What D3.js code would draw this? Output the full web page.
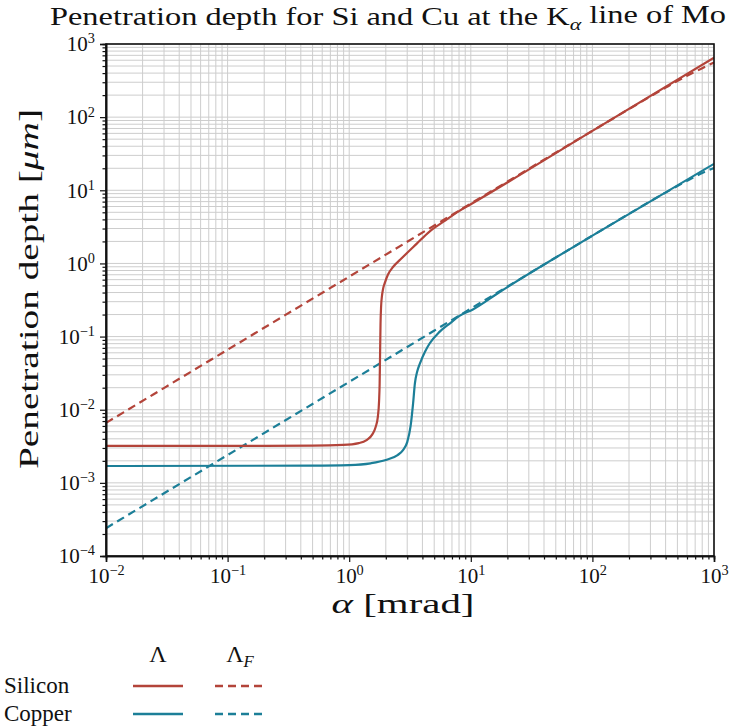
<!DOCTYPE html>
<html><head><meta charset="utf-8">
<script src="https://cdn.jsdelivr.net/npm/d3@7"></script>
<style>body{margin:0;background:#fff}svg{display:block}text{font-family:"Liberation Serif","DejaVu Serif",serif;fill:#111}</style>
</head><body><svg id="c" width="734" height="726"></svg>
<script>
// ---- data ----
const xTickExps = [-2, -1, 0, 1, 2, 3];
const yTickExps = [-4, -3, -2, -1, 0, 1, 2, 3];

const siAlpha  = [0.01, 0.1, 0.5, 0.89, 1.2, 1.39, 1.55, 1.65, 1.72, 1.76, 1.78, 1.795, 1.81, 1.83, 1.86, 1.9, 1.97, 2.08, 2.3, 2.62, 3.58, 4.6, 6, 8, 10, 100, 1000];
const siLambda = [3.2e-3, 3.2e-3, 3.22e-3, 3.3e-3, 3.5e-3, 3.85e-3, 4.6e-3, 5.8e-3, 8e-3, 0.013, 0.023, 0.06, 0.15, 0.26, 0.36, 0.45, 0.55, 0.7, 0.9, 1.12, 1.85, 2.75, 3.75, 5.2, 6.45, 65, 650];
const siFAlpha  = [0.01, 1, 100, 200, 400, 600, 800, 1000];
const siLambdaF = [0.0066, 0.66, 65, 129, 253, 367, 466, 560];

const cuAlpha  = [0.01, 0.5, 1, 1.5, 2, 2.5, 2.77, 3, 3.2, 3.35, 3.47, 3.62, 3.82, 4.2, 4.6, 5.5, 6.74, 8, 10.4, 17.4, 100, 1000];
const cuLambda = [1.7e-3, 1.72e-3, 1.75e-3, 1.85e-3, 2.05e-3, 2.4e-3, 2.8e-3, 3.6e-3, 6e-3, 0.012, 0.023, 0.033, 0.043, 0.062, 0.081, 0.115, 0.152, 0.19, 0.235, 0.41, 2.4, 23];
const cuFAlpha  = [0.01, 1, 100, 200, 400, 600, 800, 1000];
const cuLambdaF = [2.4e-4, 0.024, 2.4, 4.77, 9.3, 13.5, 17.2, 20.2];

const seriesNames = ["Silicon", "Copper"];
const seriesColors = ["#b3443a", "#1c7f98"];

// ---- layout ----
const svg = d3.select("#c");
const L = 106, R = 714, T = 44, B = 556;
const x = d3.scaleLog().domain([1e-2, 1e3]).range([L, R]);
const y = d3.scaleLog().domain([1e-4, 1e3]).range([B, T]);

const majX = xTickExps.map(e => Math.pow(10, e));
const majY = yTickExps.map(e => Math.pow(10, e));
const minX = [], minY = [];
for (let e = -2; e < 3; e++) for (let k = 2; k <= 9; k++) minX.push(k * Math.pow(10, e));
for (let e = -4; e < 3; e++) for (let k = 2; k <= 9; k++) minY.push(k * Math.pow(10, e));

// grid
const grid = svg.append("g");
grid.selectAll(".gx").data(minX.concat(majX)).join("line")
  .attr("x1", d => x(d)).attr("x2", d => x(d)).attr("y1", T).attr("y2", B)
  .attr("stroke", "#cdcdcd").attr("stroke-width", 1);
grid.selectAll(".gy").data(minY.concat(majY)).join("line")
  .attr("y1", d => y(d)).attr("y2", d => y(d)).attr("x1", L).attr("x2", R)
  .attr("stroke", "#cdcdcd").attr("stroke-width", 1);

// curves
const line = d3.line().x(d => x(d[0])).y(d => y(d[1])).curve(d3.curveMonotoneX);
svg.append("clipPath").attr("id", "pc").append("rect").attr("x", L).attr("y", T).attr("width", R - L).attr("height", B - T);
const curves = svg.append("g").attr("clip-path", "url(#pc)");
const sets = [
  {a: siFAlpha, v: siLambdaF, c: seriesColors[0], dash: "8,5"},
  {a: cuFAlpha, v: cuLambdaF, c: seriesColors[1], dash: "8,5"},
  {a: siAlpha, v: siLambda, c: seriesColors[0], dash: null},
  {a: cuAlpha, v: cuLambda, c: seriesColors[1], dash: null}
];
sets.forEach(s => {
  curves.append("path").datum(s.a.map((a, i) => [a, s.v[i]]))
    .attr("d", line).attr("fill", "none").attr("stroke", s.c).attr("stroke-width", 2.2)
    .attr("stroke-dasharray", s.dash);
});

// frame
svg.append("rect").attr("x", L).attr("y", T).attr("width", R - L).attr("height", B - T)
  .attr("fill", "none").attr("stroke", "#111").attr("stroke-width", 1.6);

function sup(sel) {
  sel.selectAll(".tick text").each(function(d) {
    const t = d3.select(this);
    const e = Math.round(Math.log10(d));
    t.text("");
    t.append("tspan").text("10");
    t.append("tspan").attr("dy", "-0.55em").attr("font-size", "0.68em").text(e < 0 ? "\u2212" + (-e) : e);
  });
}

// x axis
const gx = svg.append("g").attr("transform", `translate(0,${B})`);
gx.call(d3.axisBottom(x).tickValues(majX).tickSize(6).tickPadding(6));
gx.call(sup);
const gxm = svg.append("g").attr("transform", `translate(0,${B})`);
gxm.call(d3.axisBottom(x).tickValues(minX).tickSize(3.5).tickFormat(""));
// y axis
const gy = svg.append("g").attr("transform", `translate(${L},0)`);
gy.call(d3.axisLeft(y).tickValues(majY).tickSize(6).tickPadding(5));
gy.call(sup);
const gym = svg.append("g").attr("transform", `translate(${L},0)`);
gym.call(d3.axisLeft(y).tickValues(minY).tickSize(3.5).tickFormat(""));
svg.selectAll(".domain").attr("stroke", "#111").attr("stroke-width", 1.6);
svg.selectAll(".tick line").attr("stroke", "#111").attr("stroke-width", 1.2);
svg.selectAll(".tick text").attr("font-size", 21).attr("font-family", "Liberation Serif, serif").attr("fill", "#111");

// title
const title = svg.append("text").attr("x", 388).attr("y", 25).attr("text-anchor", "middle").attr("font-size", 26)
  .attr("textLength", 676).attr("lengthAdjust", "spacingAndGlyphs");
title.append("tspan").text("Penetration depth for Si and Cu at the K");
title.append("tspan").attr("dy", "0.3em").attr("font-size", "0.68em").attr("font-style", "italic").text("\u03b1");
title.append("tspan").attr("dy", "-0.3em").text(" line of Mo");

// axis labels
const xl = svg.append("text").attr("x", 403).attr("y", 613).attr("text-anchor", "middle").attr("font-size", 27)
  .attr("textLength", 143).attr("lengthAdjust", "spacingAndGlyphs");
xl.append("tspan").attr("font-style", "italic").text("\u03b1");
xl.append("tspan").text(" [mrad]");
const yl = svg.append("text").attr("transform", `translate(38,289) rotate(-90)`).attr("text-anchor", "middle").attr("font-size", 28)
  .attr("textLength", 360).attr("lengthAdjust", "spacingAndGlyphs");
yl.append("tspan").text("Penetration depth [");
yl.append("tspan").attr("font-style", "italic").text("\u03bcm");
yl.append("tspan").text("]");

// legend
const lg = svg.append("g");
lg.append("text").attr("x", 158).attr("y", 662).attr("text-anchor", "middle").attr("font-size", 24).text("\u039b");
const lf = lg.append("text").attr("x", 240).attr("y", 662).attr("text-anchor", "middle").attr("font-size", 24);
lf.append("tspan").text("\u039b");
lf.append("tspan").attr("dy", "0.3em").attr("font-size", "0.7em").attr("font-style", "italic").text("F");
seriesNames.forEach((n, i) => {
  const yy = 686 + i * 28;
  lg.append("text").attr("x", 4).attr("y", yy + 7).attr("font-size", 23).text(n);
  lg.append("line").attr("x1", 133).attr("x2", 183).attr("y1", yy).attr("y2", yy).attr("stroke", seriesColors[i]).attr("stroke-width", 2.4);
  lg.append("line").attr("x1", 215).attr("x2", 264).attr("y1", yy).attr("y2", yy).attr("stroke", seriesColors[i]).attr("stroke-width", 2.4).attr("stroke-dasharray", "8,5");
});
</script></body></html>
